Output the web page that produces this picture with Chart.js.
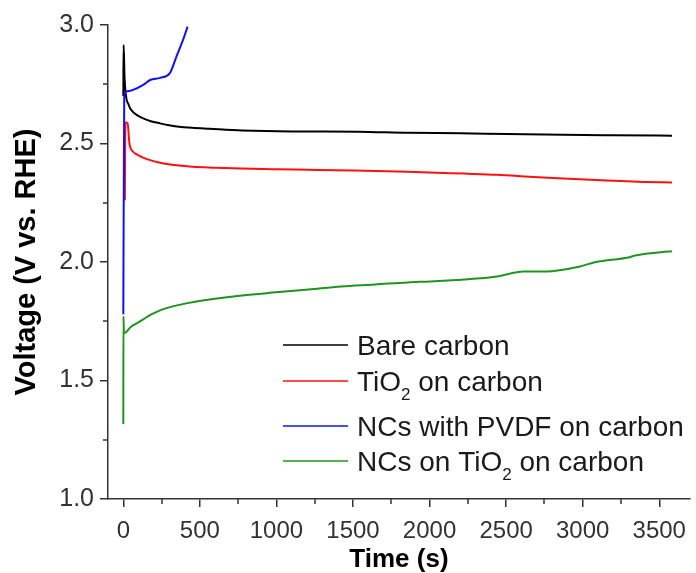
<!DOCTYPE html>
<html>
<head>
<meta charset="utf-8">
<title>Voltage vs time</title>
<script src="https://cdn.jsdelivr.net/npm/chart.js@4.4.1/dist/chart.umd.min.js"></script>
<style>
  html, body { margin: 0; padding: 0; background: #fff; }
</style>
</head>
<body>
<canvas id="voltageChart" width="696" height="573"></canvas>
<script>
// Chronopotentiometry traces, time in s, voltage in V vs. RHE
const bareTime = [0, 2, 8, 20, 32, 45, 65, 90, 130, 180, 240, 300, 350, 450, 563, 776, 1100, 1533, 1856, 2200, 2500, 2872, 3200, 3583];
const bareVolt = [2.70, 2.916, 2.78, 2.69, 2.668, 2.648, 2.632, 2.620, 2.606, 2.594, 2.585, 2.577, 2.572, 2.566, 2.562, 2.555, 2.551, 2.550, 2.545, 2.543, 2.540, 2.537, 2.535, 2.533];

const tio2Time = [10, 14, 28, 40, 60, 90, 150, 240, 350, 453, 600, 776, 1000, 1210, 1500, 1856, 2225, 2439, 2652, 2872, 3195, 3400, 3583];
const tio2Volt = [2.26, 2.59, 2.585, 2.50, 2.468, 2.453, 2.435, 2.419, 2.408, 2.402, 2.398, 2.394, 2.391, 2.389, 2.386, 2.381, 2.373, 2.368, 2.360, 2.352, 2.343, 2.338, 2.335];

const pvdfTime = [0, 6, 25, 60, 130, 175, 240, 304, 347, 390, 420];
const pvdfVolt = [1.78, 2.70, 2.72, 2.725, 2.747, 2.768, 2.777, 2.797, 2.867, 2.937, 2.993];

const ncTime = [0, 1, 4, 20, 45, 90, 130, 180, 240, 350, 450, 563, 776, 996, 1210, 1423, 1643, 1856, 2005, 2225, 2439, 2613, 2762, 2975, 3085, 3299, 3344, 3557, 3583];
const ncVolt = [1.316, 1.77, 1.70, 1.705, 1.724, 1.742, 1.758, 1.778, 1.796, 1.817, 1.830, 1.842, 1.859, 1.872, 1.884, 1.897, 1.905, 1.914, 1.918, 1.926, 1.939, 1.960, 1.960, 1.980, 2.000, 2.019, 2.027, 2.044, 2.045];

const seriesLabels = ['Bare carbon', 'TiO₂ on carbon', 'NCs with PVDF on carbon', 'NCs on TiO₂ on carbon'];
const seriesColors = ['#000000', '#ff1010', '#1010ff', '#1f951f'];

const xTicks = [0, 500, 1000, 1500, 2000, 2500, 3000, 3500];
const yTicks = [1.0, 1.5, 2.0, 2.5, 3.0];
const xMinor = [250, 750, 1250, 1750, 2250, 2750, 3250];
const yMinor = [1.25, 1.75, 2.25, 2.75];

const FONT = "'Liberation Sans', Arial, sans-serif";
const axisColor = '#333333';

function toPoints(ts, vs) {
  return ts.map((t, i) => ({ x: t, y: vs[i] }));
}

// small outward ticks between the labelled ones
const minorTicks = {
  id: 'minorTicks',
  afterDraw(chart) {
    const { ctx, chartArea, scales } = chart;
    ctx.save();
    ctx.strokeStyle = axisColor;
    ctx.lineWidth = 1.5;
    ctx.beginPath();
    xMinor.forEach(v => {
      const px = Math.round(scales.x.getPixelForValue(v));
      ctx.moveTo(px, chartArea.bottom);
      ctx.lineTo(px, chartArea.bottom + 5);
    });
    yMinor.forEach(v => {
      const py = Math.round(scales.y.getPixelForValue(v));
      ctx.moveTo(chartArea.left, py);
      ctx.lineTo(chartArea.left - 5, py);
    });
    ctx.stroke();
    ctx.restore();
  }
};

// legend inside the plot, with subscripts for TiO2
const insideLegend = {
  id: 'insideLegend',
  afterDraw(chart) {
    const { ctx } = chart;
    const rows = [345, 381, 426, 461];
    const lineX0 = 283, lineX1 = 348, textX = 357;
    ctx.save();
    chart.data.datasets.forEach((ds, i) => {
      const y = rows[i];
      ctx.strokeStyle = ds.borderColor;
      ctx.lineWidth = 1.5;
      ctx.beginPath();
      ctx.moveTo(lineX0, y);
      ctx.lineTo(lineX1, y);
      ctx.stroke();

      ctx.fillStyle = '#1a1a1a';
      ctx.textBaseline = 'alphabetic';
      let x = textX;
      const parts = ds.label.split('₂');
      parts.forEach((part, j) => {
        ctx.font = '28px ' + FONT;
        ctx.fillText(part, x, y + 10);
        x += ctx.measureText(part).width;
        if (j < parts.length - 1) {
          ctx.font = '17px ' + FONT;
          ctx.fillText('2', x, y + 19);
          x += ctx.measureText('2').width;
        }
      });
    });
    ctx.restore();
  }
};

new Chart(document.getElementById('voltageChart'), {
  type: 'line',
  data: {
    datasets: [
      { label: seriesLabels[0], data: toPoints(bareTime, bareVolt), borderColor: seriesColors[0], order: 4 },
      { label: seriesLabels[1], data: toPoints(tio2Time, tio2Volt), borderColor: seriesColors[1], order: 3 },
      { label: seriesLabels[2], data: toPoints(pvdfTime, pvdfVolt), borderColor: seriesColors[2], order: 2 },
      { label: seriesLabels[3], data: toPoints(ncTime, ncVolt), borderColor: seriesColors[3], order: 1 }
    ]
  },
  options: {
    responsive: false,
    animation: false,
    devicePixelRatio: 1,
    layout: { padding: { top: 25, right: 1, left: 0, bottom: 0 } },
    elements: {
      point: { radius: 0 },
      line: { borderWidth: 2, cubicInterpolationMode: 'monotone' }
    },
    plugins: {
      legend: { display: false },
      tooltip: { enabled: false }
    },
    scales: {
      x: {
        type: 'linear',
        min: -100,
        max: 3700,
        afterFit(scale) { scale.height = 74; },
        afterBuildTicks(scale) { scale.ticks = xTicks.map(v => ({ value: v })); },
        border: { display: true, color: axisColor, width: 1.5 },
        grid: { drawOnChartArea: false, drawTicks: true, tickLength: 8, color: axisColor, lineWidth: 1.5 },
        ticks: {
          autoSkip: false,
          maxRotation: 0,
          padding: 10,
          color: axisColor,
          font: { family: FONT, size: 24 },
          callback: v => String(v)
        },
        title: {
          display: true,
          text: 'Time (s)',
          color: '#000',
          padding: { top: 0, bottom: 0 },
          font: { family: FONT, size: 26, weight: 'bold', lineHeight: 1.0 }
        }
      },
      y: {
        min: 1.0,
        max: 3.0,
        afterFit(scale) { scale.width = 108; },
        afterBuildTicks(scale) { scale.ticks = yTicks.map(v => ({ value: v })); },
        border: { display: true, color: axisColor, width: 1.5 },
        grid: { drawOnChartArea: false, drawTicks: true, tickLength: 8, color: axisColor, lineWidth: 1.5 },
        ticks: {
          padding: 6,
          color: axisColor,
          font: { family: FONT, size: 25 },
          callback: v => v.toFixed(1)
        },
        title: {
          display: true,
          text: 'Voltage (V vs. RHE)',
          color: '#000',
          padding: { top: 12, bottom: 0 },
          font: { family: FONT, size: 29, weight: 'bold', lineHeight: 1.0 }
        }
      }
    }
  },
  plugins: [minorTicks, insideLegend]
});
</script>
</body>
</html>
